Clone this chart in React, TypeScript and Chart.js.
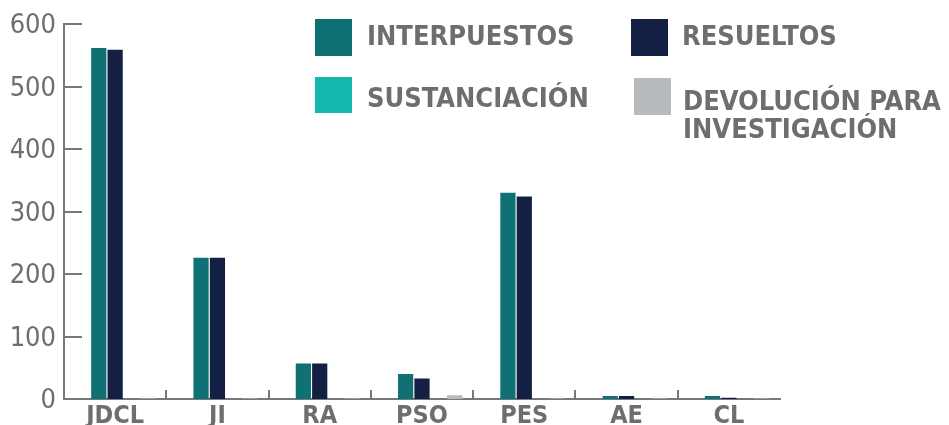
import React, { useEffect, useRef } from "react";
import { Chart, registerables } from "chart.js";

Chart.register(...registerables);

const categories = ["JDCL", "JI", "RA", "PSO", "PES", "AE", "CL"];
const seriesNames = ["INTERPUESTOS", "RESUELTOS", "SUSTANCIACIÓN", "DEVOLUCIÓN PARA\nINVESTIGACIÓN"];
const interpuestos = [562, 226, 57, 40, 330, 5, 5];
const resueltos = [559, 226, 57, 33, 324, 5, 2];
const sustanciacion = [0, 0, 0, 0, 0, 0, 0];
const devolucion = [1, 1, 1, 6, 1, 1, 1];
const spacer = [null, null, null, null, null, null, null];
const seriesColors = ["#0f7173", "#131f43", "#14b8ae", "#b8bbbe"];
const yMin = 0;
const yMax = 600;
const yStep = 100;

const AXIS = "#77787b";
const TEXT = "#6d6e71";
const FONT = '"DejaVu Sans Condensed", "DejaVu Sans", sans-serif';

const legendPos = [
  { sx: 315, sy: 19, sw: 37, sh: 37, tx: 367, ty: 22 },
  { sx: 631, sy: 19, sw: 37, sh: 37, tx: 682, ty: 22 },
  { sx: 315, sy: 77, sw: 37, sh: 36, tx: 367, ty: 84 },
  { sx: 634, sy: 78, sw: 37, sh: 37, tx: 683, ty: 87 },
];

const tickMarks = {
  id: "tickMarks",
  afterDraw(chart: any) {
    const ctx = chart.ctx;
    const { left, bottom } = chart.chartArea;
    const x = chart.scales.x;
    const y = chart.scales.y;
    ctx.save();
    ctx.strokeStyle = AXIS;
    ctx.lineWidth = 2;
    ctx.beginPath();
    y.ticks.forEach((_t: any, i: number) => {
      const py = Math.round(y.getPixelForTick(i));
      ctx.moveTo(left, py);
      ctx.lineTo(left + 18, py);
    });
    for (let i = 1; i < categories.length; i++) {
      const px = Math.round((x.getPixelForTick(i - 1) + x.getPixelForTick(i)) / 2);
      ctx.moveTo(px, bottom - 9);
      ctx.lineTo(px, bottom);
    }
    ctx.stroke();
    ctx.restore();
  },
};

export default function App() {
  const ref = useRef<HTMLCanvasElement | null>(null);
  useEffect(() => {
    if (!ref.current) return;
    const values = [interpuestos, resueltos, sustanciacion, devolucion];
    const chart = new Chart(ref.current, {
      type: "bar",
      data: {
        labels: categories,
        datasets: [
          { label: "", data: spacer as any, backgroundColor: "rgba(0,0,0,0)" },
          ...values.map((d, i) => ({
            label: seriesNames[i],
            data: d,
            backgroundColor: seriesColors[i],
            borderWidth: 0,
          })),
        ],
      },
      options: {
        animation: false,
        responsive: true,
        maintainAspectRatio: false,
        layout: { padding: { left: 0, right: 169, top: 21, bottom: 0 } },
        plugins: { legend: { display: false }, tooltip: { enabled: false } },
        datasets: { bar: { categoryPercentage: 0.8, barPercentage: 0.93 } },
        scales: {
          x: {
            grid: { display: false, drawTicks: false },
            border: { display: true, color: AXIS, width: 2 },
            ticks: { color: TEXT, font: { family: FONT, size: 25, weight: "bold" }, padding: 2 },
            afterFit: (s: any) => { s.height = 26; },
          },
          y: {
            min: yMin,
            max: yMax,
            grid: { display: false, drawTicks: false },
            border: { display: true, color: AXIS, width: 2 },
            ticks: { stepSize: yStep, color: TEXT, font: { family: FONT, size: 27 }, padding: 8, labelOffset: 2 },
            afterFit: (s: any) => { s.width = 64; },
          },
        },
      },
      plugins: [tickMarks],
    });
    return () => chart.destroy();
  }, []);

  return (
    <div style={{ position: "fixed", left: 0, top: 0, width: 949, height: 425, background: "#fff" }}>
      <canvas ref={ref} />
      {seriesNames.map((n, i) => {
        const p = legendPos[i];
        return (
          <React.Fragment key={n}>
            <div style={{ position: "absolute", left: p.sx, top: p.sy, width: p.sw, height: p.sh, background: seriesColors[i] }} />
            <div
              style={{
                position: "absolute",
                left: p.tx,
                top: p.ty,
                font: `bold 27px ${FONT}`,
                lineHeight: "28px",
                color: TEXT,
                whiteSpace: "pre",
              }}
            >
              {n}
            </div>
          </React.Fragment>
        );
      })}
    </div>
  );
}
